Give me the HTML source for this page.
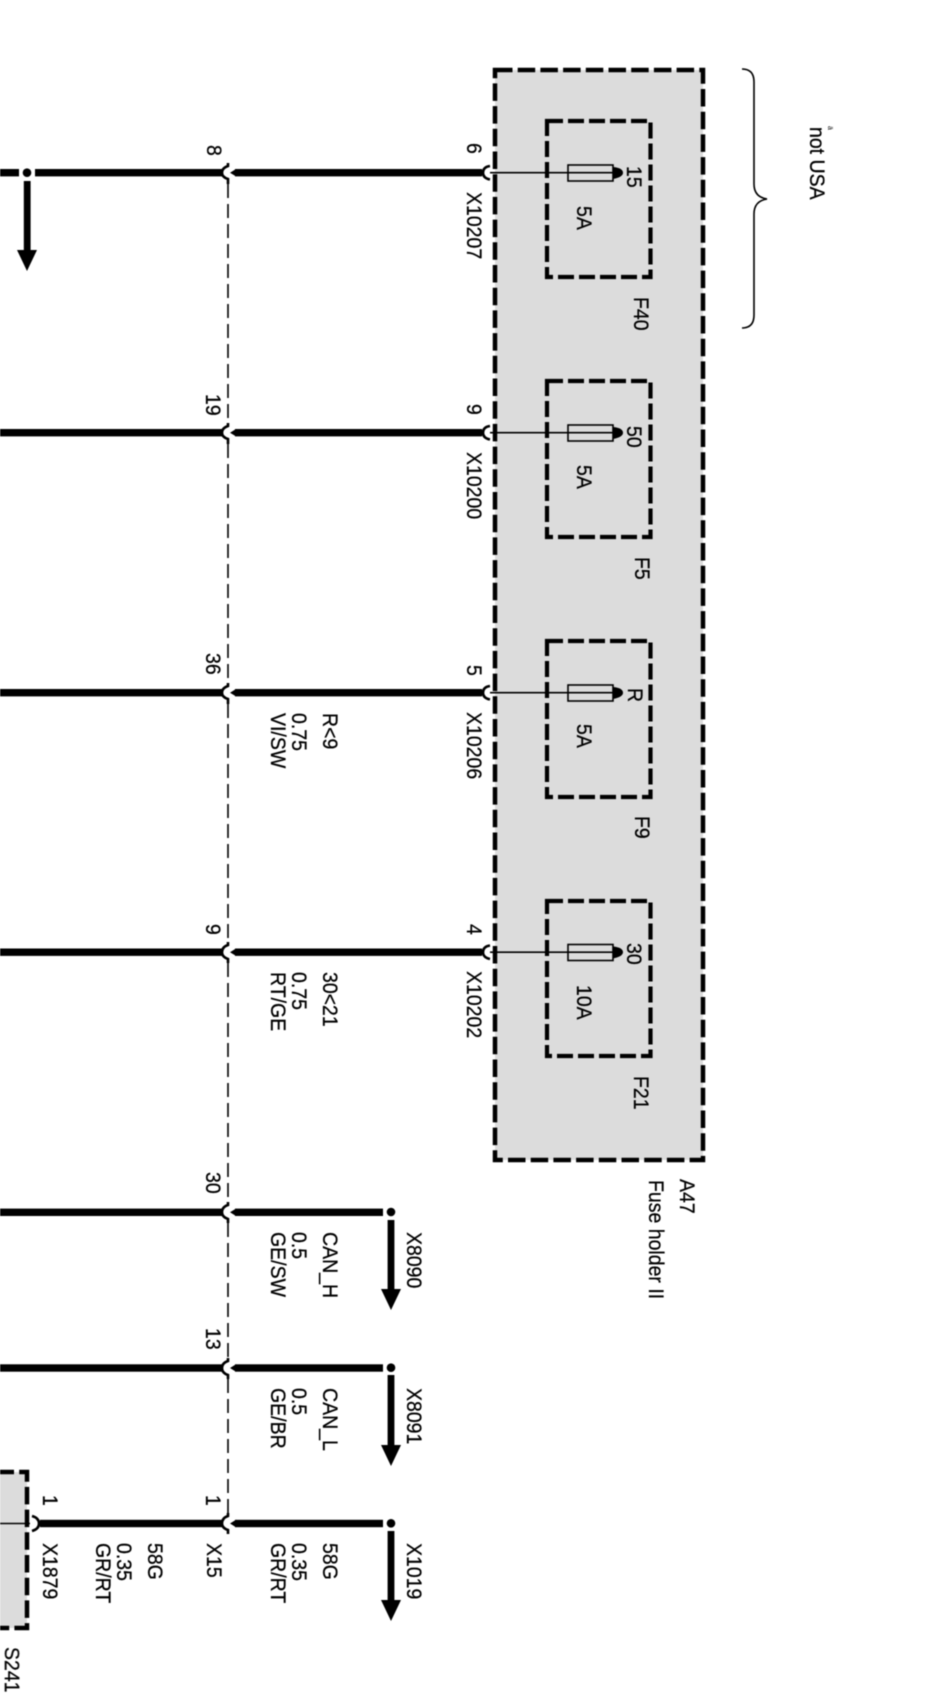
<!DOCTYPE html>
<html><head><meta charset="utf-8"><style>
html,body{margin:0;padding:0;background:#fff}
svg{display:block}
text{font-family:"Liberation Sans",sans-serif;font-size:19.5px;fill:#000;stroke:#000;stroke-width:.25px}
</style></head><body>
<svg width="952" height="1708" viewBox="0 0 952 1708" xmlns="http://www.w3.org/2000/svg">
<g style="filter:blur(.45px)">
<!-- gray boxes -->
<rect x="495" y="70" width="208" height="1090" fill="#dcdcdc"/>
<rect x="0" y="1472" width="27" height="156" fill="#dcdcdc"/>
<rect x="495" y="70" width="208" height="1090" fill="none" stroke="#000" stroke-width="4.5" stroke-dasharray="17.5 5.2"/>
<g fill="none" stroke="#000" stroke-width="4.2" stroke-dasharray="16 5">
<rect x="547" y="121" width="103.500" height="156"/>
<rect x="547" y="381" width="103.500" height="156"/>
<rect x="547" y="641" width="103.500" height="156"/>
<rect x="547" y="901" width="103.500" height="155"/>
</g>
<path d="M0 1472H27V1628H0" fill="none" stroke="#000" stroke-width="4.5" stroke-dasharray="17.5 5.2" stroke-dashoffset="3.5"/>
<!-- dashed line -->
<g stroke="#000" stroke-width="1.6" stroke-dasharray="14 6" fill="none">
<path d="M228 184V422"/><path d="M228 444V682"/><path d="M228 704V942"/><path d="M228 963V1202"/><path d="M228 1223V1358"/><path d="M228 1379V1513"/>
</g>
<!-- thick wires -->
<g fill="#000">
<rect x="0" y="169" width="19" height="7.4"/><rect x="35" y="169" width="187" height="7.4"/><rect x="235" y="169" width="247" height="7.4"/>
<rect x="0" y="429" width="222" height="7.4"/><rect x="235" y="429" width="247" height="7.4"/>
<rect x="0" y="689" width="222" height="7.4"/><rect x="235" y="689" width="247" height="7.4"/>
<rect x="0" y="948.500" width="222" height="7.4"/><rect x="235" y="948.500" width="247" height="7.4"/>
<rect x="0" y="1208.600" width="222" height="7.4"/><rect x="235" y="1208.600" width="148" height="7.4"/>
<rect x="0" y="1364.300" width="222" height="7.4"/><rect x="235" y="1364.300" width="148" height="7.4"/>
<rect x="40" y="1519.800" width="182" height="7.4"/><rect x="235" y="1519.800" width="148" height="7.4"/>
<polygon points="230,172.700 236,169 236,176.400"/><polygon points="230,432.700 236,429 236,436.400"/><polygon points="230,692.700 236,689 236,696.400"/><polygon points="230,952.200 236,948.500 236,955.900"/><polygon points="230,1212.300 236,1208.600 236,1216"/><polygon points="230,1368 236,1364.300 236,1371.700"/><polygon points="230,1523.500 236,1519.800 236,1527.200"/>
<!-- dots and arrows -->
<circle cx="27" cy="172.700" r="4.300"/><rect x="23.800" y="181" width="6.800" height="70"/><polygon points="17,250 37,250 27,271"/>
<circle cx="391" cy="1212" r="4.300"/><rect x="387.600" y="1220" width="6.800" height="70"/><polygon points="381,1289 401,1289 391,1310"/>
<circle cx="391" cy="1367.700" r="4.300"/><rect x="387.600" y="1375" width="6.800" height="71"/><polygon points="381,1445 401,1445 391,1466"/>
<circle cx="391" cy="1523.300" r="4.300"/><rect x="387.600" y="1531" width="6.800" height="70"/><polygon points="381,1600 401,1600 391,1621"/>
</g>
<!-- left hooks -->
<g fill="none" stroke="#000" stroke-width="2.600">
<path d="M228 163V166Q222 168 222 172.700Q222 177 228 179V184"/>
<path d="M228 423V426Q222 428 222 432.700Q222 437 228 439V444"/>
<path d="M228 683V686Q222 688 222 692.700Q222 697 228 699V704"/>
<path d="M228 942V945Q222 947 222 952.200Q222 957 228 959V963"/>
<path d="M228 1202V1205Q222 1207 222 1212.300Q222 1217 228 1219V1223"/>
<path d="M228 1358V1361Q222 1363 222 1368Q222 1373 228 1375V1379"/>
<path d="M228 1513V1516Q222 1518 222 1523.500Q222 1528 228 1530V1534"/>
<path d="M490 166Q483 167 483 172.700Q483 178 490 179.500"/>
<path d="M490 426Q483 427 483 432.700Q483 438 490 439.500"/>
<path d="M490 686Q483 687 483 692.700Q483 698 490 699.500"/>
<path d="M490 945.500Q483 946.500 483 952.200Q483 957.500 490 959"/>
<path d="M32 1516Q39 1518 39 1523.500Q39 1529 32 1531"/>
</g>
<!-- fuses -->
<g fill="none" stroke="#000" stroke-width="1.600">
<rect x="568" y="165" width="45" height="16"/><rect x="568" y="425" width="45" height="16"/><rect x="568" y="685" width="45" height="16"/><rect x="568" y="944.500" width="45" height="16"/>
<path d="M490 172.700H613M490 432.700H613M490 692.700H613M490 952.200H613M0 1523.500H30"/>
</g>
<g fill="#000">
<path d="M613 167Q623 168 623 172.700Q623 177 613 179Z"/><path d="M613 427Q623 428 623 432.700Q623 437 613 439Z"/><path d="M613 687Q623 688 623 692.700Q623 697 613 699Z"/><path d="M613 946.500Q623 947.500 623 952.200Q623 956.500 613 958.500Z"/>
</g>
<!-- brace -->
<path d="M742 69Q754 69 754 82V184Q754 197 767 199Q754 201 754 214V315Q754 328 742 328" fill="none" stroke="#000" stroke-width="1.600"/>
<!-- text -->
<text transform="translate(810,127) rotate(90) scale(1,1.1)">not USA</text>
<text transform="translate(828,126) rotate(90)" style="font-size:7px;stroke-width:0">ä</text>
<text transform="translate(467,143) rotate(90) scale(1,1.1)">6</text>
<text transform="translate(467,192) rotate(90) scale(1,1.1)">X10207</text>
<text transform="translate(467,404) rotate(90) scale(1,1.1)">9</text>
<text transform="translate(467,452) rotate(90) scale(1,1.1)">X10200</text>
<text transform="translate(467,665) rotate(90) scale(1,1.1)">5</text>
<text transform="translate(467,712) rotate(90) scale(1,1.1)">X10206</text>
<text transform="translate(467,924) rotate(90) scale(1,1.1)">4</text>
<text transform="translate(467,971) rotate(90) scale(1,1.1)">X10202</text>
<text transform="translate(627,166) rotate(90) scale(1,1.1)">15</text>
<text transform="translate(627,426) rotate(90) scale(1,1.1)">50</text>
<text transform="translate(628,688) rotate(90) scale(1,1.1)">R</text>
<text transform="translate(627,943) rotate(90) scale(1,1.1)">30</text>
<text transform="translate(577,206) rotate(90) scale(1,1.1)">5A</text>
<text transform="translate(577,465) rotate(90) scale(1,1.1)">5A</text>
<text transform="translate(577,724) rotate(90) scale(1,1.1)">5A</text>
<text transform="translate(577,985) rotate(90) scale(1,1.1)">10A</text>
<text transform="translate(634,297) rotate(90) scale(1,1.1)">F40</text>
<text transform="translate(635,557) rotate(90) scale(1,1.1)">F5</text>
<text transform="translate(635,816) rotate(90) scale(1,1.1)">F9</text>
<text transform="translate(634,1076) rotate(90) scale(1,1.1)">F21</text>
<text transform="translate(680,1179) rotate(90) scale(1,1.1)">A47</text>
<text transform="translate(649,1180) rotate(90) scale(1,1.1)">Fuse holder II</text>
<text transform="translate(207,145) rotate(90) scale(1,1.1)">8</text>
<text transform="translate(206,394) rotate(90) scale(1,1.1)">19</text>
<text transform="translate(206,653) rotate(90) scale(1,1.1)">36</text>
<text transform="translate(206,924) rotate(90) scale(1,1.1)">9</text>
<text transform="translate(206,1172) rotate(90) scale(1,1.1)">30</text>
<text transform="translate(206,1328) rotate(90) scale(1,1.1)">13</text>
<text transform="translate(206,1495) rotate(90) scale(1,1.1)">1</text>
<text transform="translate(43,1495) rotate(90) scale(1,1.1)">1</text>
<text transform="translate(323,713) rotate(90) scale(1,1.1)">R&lt;9</text>
<text transform="translate(292,713) rotate(90) scale(1,1.1)">0.75</text>
<text transform="translate(271,713) rotate(90) scale(1,1.1)">VI/SW</text>
<text transform="translate(323,972) rotate(90) scale(1,1.1)">30&lt;21</text>
<text transform="translate(292,972) rotate(90) scale(1,1.1)">0.75</text>
<text transform="translate(271,972) rotate(90) scale(1,1.1)">RT/GE</text>
<text transform="translate(323,1232) rotate(90) scale(1,1.1)">CAN_H</text>
<text transform="translate(292,1232) rotate(90) scale(1,1.1)">0.5</text>
<text transform="translate(271,1232) rotate(90) scale(1,1.1)">GE/SW</text>
<text transform="translate(407,1232) rotate(90) scale(1,1.1)">X8090</text>
<text transform="translate(323,1388) rotate(90) scale(1,1.1)">CAN_L</text>
<text transform="translate(292,1388) rotate(90) scale(1,1.1)">0.5</text>
<text transform="translate(271,1388) rotate(90) scale(1,1.1)">GE/BR</text>
<text transform="translate(407,1388) rotate(90) scale(1,1.1)">X8091</text>
<text transform="translate(323,1543) rotate(90) scale(1,1.1)">58G</text>
<text transform="translate(292,1543) rotate(90) scale(1,1.1)">0.35</text>
<text transform="translate(271,1543) rotate(90) scale(1,1.1)">GR/RT</text>
<text transform="translate(407,1543) rotate(90) scale(1,1.1)">X1019</text>
<text transform="translate(207,1543) rotate(90) scale(1,1.1)">X15</text>
<text transform="translate(148,1543) rotate(90) scale(1,1.1)">58G</text>
<text transform="translate(117,1543) rotate(90) scale(1,1.1)">0.35</text>
<text transform="translate(96,1543) rotate(90) scale(1,1.1)">GR/RT</text>
<text transform="translate(43,1543) rotate(90) scale(1,1.1)">X1879</text>
<text transform="translate(5,1647) rotate(90) scale(1,1.1)">S241</text>
</g>
</svg>
</body></html>
